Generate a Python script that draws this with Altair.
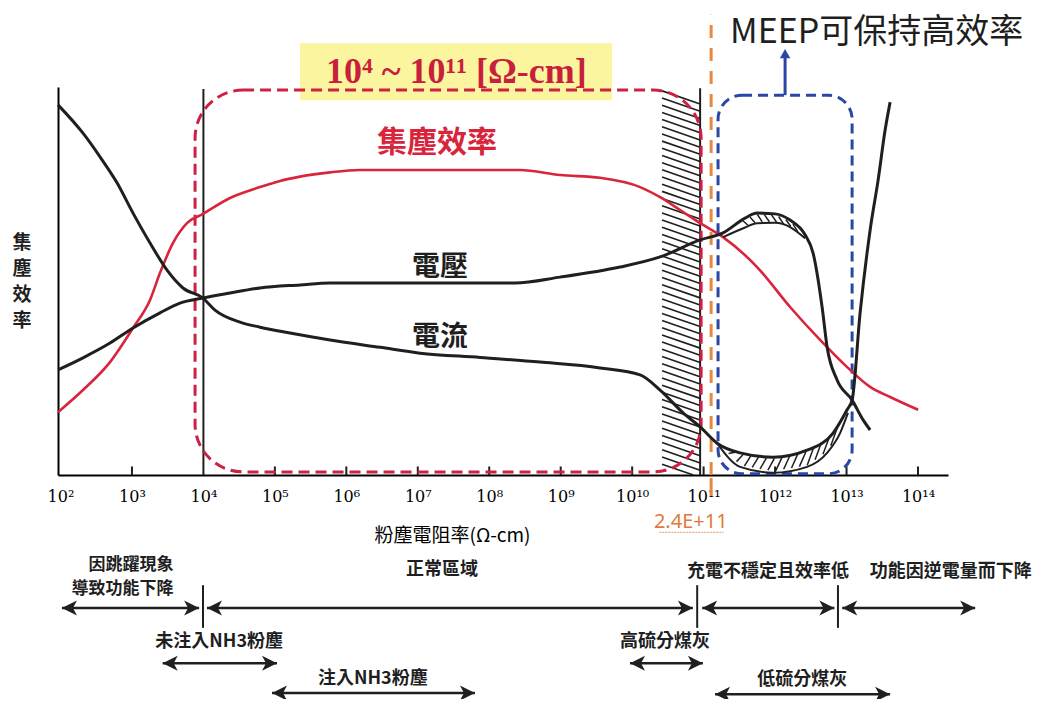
import altair as alt
import pandas as pd
import numpy as np

# ---------------- data (x = log10 resistivity, y = relative level 0-100) ----------------
EFF_X = [1.965, 2.315, 2.693, 3.015, 3.253, 3.393, 3.575, 3.770, 3.994, 4.372, 4.792, 5.072,
         5.352, 5.772, 6.192, 7.172, 8.431, 8.991, 9.551, 10.111, 10.391, 10.671, 10.951,
         11.272, 11.748, 12.210, 12.630, 13.008, 13.330, 13.610, 14.002]
EFF_Y = [16.2, 21.9, 29.1, 37.9, 45.1, 52.1, 59.8, 64.9, 67.3, 71.4, 74.2, 75.8,
         76.9, 78.0, 78.6, 78.6, 78.6, 77.3, 76.6, 74.2, 71.6, 68.3, 64.9,
         61.3, 53.6, 43.3, 34.8, 27.8, 22.7, 20.1, 16.8]

VOLT_X = [1.965, 2.315, 2.693, 3.015, 3.393, 3.672, 3.994, 4.372, 4.792, 5.352, 5.772, 8.361,
          8.991, 9.831, 10.391, 10.951, 11.272, 11.580, 11.748, 12.000, 12.210, 12.420,
          12.532, 12.658, 12.728, 12.868, 13.078, 13.232, 13.330]
VOLT_Y = [27.1, 30.2, 34.0, 37.9, 41.8, 44.3, 45.6, 46.9, 48.2, 49.0, 49.5, 49.5,
          51.0, 53.6, 56.2, 60.6, 62.4, 66.2, 67.5, 67.3, 65.7, 61.9,
          57.2, 43.3, 33.0, 24.5, 19.3, 14.2, 11.6]
VOLT_INNER_X = [11.272, 11.580, 11.748, 12.000, 12.210, 12.420]
VOLT_INNER_Y = [61.3, 63.8, 64.9, 65.0, 63.9, 61.0]

CURR_X = [1.965, 2.315, 2.553, 2.791, 3.015, 3.253, 3.491, 3.714, 3.994, 4.162, 4.512, 4.792,
          5.212, 5.772, 6.472, 7.032, 7.872, 8.711, 9.551, 10.111, 10.391, 10.713, 10.951,
          11.188, 11.510, 11.972, 12.448, 12.812, 13.008, 13.078, 13.190, 13.330, 13.442,
          13.540, 13.610]
CURR_Y = [95.4, 88.1, 82.0, 75.3, 67.5, 59.8, 52.8, 48.2, 45.6, 42.5, 39.4, 38.1,
          36.6, 34.8, 32.9, 31.4, 30.3, 29.1, 27.6, 25.8, 21.9, 16.0, 12.4,
          8.2, 5.7, 4.6, 6.4, 10.8, 16.8, 19.3, 41.8, 63.1, 76.0,
          88.9, 96.1]
CURR_INNER_X = [11.188, 11.510, 11.972, 12.448, 12.728, 12.910, 13.020]
CURR_INNER_Y = [8.2, 2.1, 0.6, 2.1, 5.7, 10.8, 16.0]

TICK_VALUES = list(range(2, 15))
SUP = dict(zip("0123456789", "⁰¹²³⁴⁵⁶⁷⁸⁹"))
TICK_LABELS = ["10" + "".join(SUP[c] for c in str(v)) for v in TICK_VALUES]

# annotation rows below the axis
ARROW_X1 = [2.02, 4.05, 10.98, 12.94, 3.43, 4.96, 9.97, 11.16]
ARROW_X2 = [3.94, 10.85, 12.83, 14.80, 5.03, 7.80, 10.99, 13.61]
ARROW_Y = [-34.3, -34.3, -34.3, -34.3, -48.5, -56.2, -48.5, -56.5]
SEP_X = [3.994, 10.91, 12.88]

NOTE_TEXT = ["正常區域", "充電不穩定且效率低", "功能因逆電量而下降", "未注入NH3粉塵",
             "注入NH3粉塵", "高硫分煤灰", "低硫分煤灰"]
NOTE_X = [7.34, 11.90, 14.46, 4.22, 6.37, 10.46, 12.38]
NOTE_Y = [-24.5, -25.0, -25.0, -43.0, -52.6, -43.0, -52.9]
LEFT_NOTE = ["因跳躍現象", "導致功能下降"]
LEFT_NOTE_Y = [-23.3, -29.4]

RED = "#d8253b"
BOX_RED = "#cc2142"
BLUE = "#2b46a6"
ORANGE = "#e8873f"
BLACK = "#1f1f1f"
CJK = "Noto Sans CJK TC"

xs = alt.Scale(domain=[1.965, 14.42], nice=False, zero=False)
ys = alt.Scale(domain=[0, 100], nice=False, zero=False)

label_expr = "[" + ",".join(f"'{l}'" for l in TICK_LABELS) + "][datum.value - 2]"
AX = alt.Axis(values=TICK_VALUES, labelExpr=label_expr, ticks=False, grid=False,
              domainColor="black", domainWidth=2, labelFont="DejaVu Serif",
              labelFontSize=16, labelPadding=13, labelColor="black",
              labelFlush=False, labelOverlap=False,
              title="粉塵電阻率(Ω-cm)", titleFont=CJK, titleFontSize=19,
              titleFontWeight="normal", titleColor="black", titleX=394,
              titleAlign="center", titlePadding=22)
AY = alt.Axis(labels=False, ticks=False, title=None, grid=False,
              domainColor="black", domainWidth=2)


def X(f="x"):
    return alt.X(f, type="quantitative", scale=xs, axis=AX)


def Y(f="y"):
    return alt.Y(f, type="quantitative", scale=ys, axis=AY)


def X2(f="x2"):
    return alt.X2(f)


def Y2(f="y2"):
    return alt.Y2(f)


# yellow highlight behind range label
yellow = alt.Chart(pd.DataFrame({"x": [5.352], "x2": [9.72], "y": [96.6], "y2": [111.3]})).mark_rect(
    color="#fbf59f").encode(x=X(), x2=X2(), y=Y(), y2=Y2())

# hatched band left of 10^11 (texture)
hy = np.arange(99.0, 1.0, -1.85)
hx1 = np.full_like(hy, 10.418)
hx2 = np.full_like(hy, 10.951)
hy2 = hy - 3.4
short = hy2 < 0
hx2[short] = hx1[short] + (10.951 - 10.418) * (hy[short] / 3.4)
hy2[short] = 0.0
hatch = alt.Chart(pd.DataFrame({"x": hx1, "x2": hx2, "y": hy, "y2": hy2})).mark_rule(
    color=BLACK, strokeWidth=1.6).encode(x=X(), x2=X2(), y=Y(), y2=Y2())

# hatch texture inside the two hysteresis lobes
lx = np.arange(11.35, 12.80, 0.11)
low_y = np.interp(lx, CURR_INNER_X, CURR_INNER_Y)
up_y = np.interp(lx + 0.09, CURR_X, CURR_Y)
ux = np.arange(11.62, 12.40, 0.10)
uin = np.interp(ux, VOLT_INNER_X, VOLT_INNER_Y)
uout = np.interp(ux - 0.07, VOLT_X, VOLT_Y)
lobe_hatch = alt.Chart(pd.DataFrame({
    "x": np.concatenate([lx, ux]), "x2": np.concatenate([lx + 0.09, ux - 0.07]),
    "y": np.concatenate([low_y + 0.4, uin + 0.3]), "y2": np.concatenate([up_y - 0.4, uout - 0.3]),
})).mark_rule(color=BLACK, strokeWidth=1.5).encode(x=X(), x2=X2(), y=Y(), y2=Y2())

# vertical solid lines (10^4 and hatched band edge)
vlines = alt.Chart(pd.DataFrame({"x": [4.0, 10.951], "y": [0, 0], "y2": [99.5, 99.7]})).mark_rule(
    color=BLACK, strokeWidth=2).encode(x=X(), y=Y(), y2=Y2())

# small inner ticks
tk = [v for v in TICK_VALUES if v not in (2, 4)]
ticks = alt.Chart(pd.DataFrame({"x": tk, "y": [0] * len(tk), "y2": [2.2] * len(tk)})).mark_rule(
    color=BLACK, strokeWidth=2).encode(x=X(), y=Y(), y2=Y2())

# dashed boxes
red_box = alt.Chart(pd.DataFrame({"x": [3.883], "x2": [10.965], "y": [0.8], "y2": [99.2]})).mark_rect(
    fill="white", fillOpacity=0, stroke=BOX_RED, strokeWidth=3, strokeDash=[11, 6],
    cornerRadius=48).encode(x=X(), x2=X2(), y=Y(), y2=Y2())
blue_box = alt.Chart(pd.DataFrame({"x": [11.202], "x2": [13.078], "y": [0.3], "y2": [97.9]})).mark_rect(
    fill="white", fillOpacity=0, stroke=BLUE, strokeWidth=3, strokeDash=[10, 6],
    cornerRadius=24).encode(x=X(), x2=X2(), y=Y(), y2=Y2())
blue_arrow = alt.Chart(pd.DataFrame({"x": [12.14], "y": [97.9], "y2": [107.5]})).mark_rule(
    color=BLUE, strokeWidth=3).encode(x=X(), y=Y(), y2=Y2())
blue_head = alt.Chart(pd.DataFrame({"x": [12.14], "y": [108.6]})).mark_point(
    shape="triangle-up", filled=True, color=BLUE, size=110, opacity=1).encode(x=X(), y=Y())

# orange marker line
orange = alt.Chart(pd.DataFrame({"x": [11.105], "y": [0], "y2": [118.6]})).mark_rule(
    color=ORANGE, strokeWidth=3, strokeDash=[13, 10]).encode(x=X(), y=Y(), y2=Y2())
orange_tick = alt.Chart(pd.DataFrame({"x": [11.105], "y": [-0.8], "y2": [-5.4]})).mark_rule(
    color=ORANGE, strokeWidth=3).encode(x=X(), y=Y(), y2=Y2())
orange_txt = alt.Chart(pd.DataFrame({"x": [10.82], "y": [-12.1], "t": ["2.4E+11"]})).mark_text(
    font="Noto Sans", fontSize=20, color="#e07a3c", baseline="middle").encode(x=X(), y=Y(), text="t:N")
orange_ul = alt.Chart(pd.DataFrame({"x": [10.38], "x2": [11.28], "y": [-14.8]})).mark_rule(
    color="#eeaa80", strokeWidth=1.2, strokeDash=[2, 1]).encode(x=X(), x2=X2(), y=Y())


def curve(xv, yv, color, width):
    return alt.Chart(pd.DataFrame({"x": xv, "y": yv})).mark_line(
        color=color, strokeWidth=width, interpolate="monotone").encode(x=X(), y=Y())


eff_line = curve(EFF_X, EFF_Y, RED, 2.6)
volt_line = curve(VOLT_X, VOLT_Y, BLACK, 3)
volt_inner = curve(VOLT_INNER_X, VOLT_INNER_Y, BLACK, 2)
curr_line = curve(CURR_X, CURR_Y, BLACK, 3)
curr_inner = curve(CURR_INNER_X, CURR_INNER_Y, BLACK, 2)


def txt(df, **kw):
    return alt.Chart(df).mark_text(**kw).encode(x=X(), y=Y(), text="t:N")


range_label = txt(pd.DataFrame({"x": [7.54], "y": [103.9], "t": ["10⁴ ~ 10¹¹ [Ω-cm]"]}),
                  font="Liberation Serif", fontSize=36, fontWeight="bold", color="#c81f3d",
                  baseline="middle")
meep = txt(pd.DataFrame({"x": [11.37], "y": [113.9], "t": ["MEEP可保持高效率"]}),
           font=CJK, fontSize=34, color=BLACK, align="left", baseline="middle")
eff_lab = txt(pd.DataFrame({"x": [7.27], "y": [85.6], "t": ["集塵效率"]}),
              font=CJK, fontSize=30, fontWeight="bold", color=RED, baseline="middle")
vi_lab = txt(pd.DataFrame({"x": [7.31, 7.31], "y": [53.4, 35.3], "t": ["電壓", "電流"]}),
             font=CJK, fontSize=28, fontWeight="bold", color=BLACK, baseline="middle")
ylab = txt(pd.DataFrame({"x": [1.461], "y": [62.1], "t": ["集\n塵\n效\n率"]}),
           font=CJK, fontSize=19, fontWeight="bold", color=BLACK, baseline="top",
           lineBreak="\n", lineHeight=26)

notes = txt(pd.DataFrame({"x": NOTE_X, "y": NOTE_Y, "t": NOTE_TEXT}),
            font=CJK, fontSize=18, fontWeight="bold", color=BLACK, baseline="middle")
left_notes = txt(pd.DataFrame({"x": [3.58, 3.58], "y": LEFT_NOTE_Y, "t": LEFT_NOTE}),
                 font=CJK, fontSize=17, fontWeight="bold", color=BLACK, baseline="middle",
                 align="right")

arr_df = pd.DataFrame({"x": ARROW_X1, "x2": ARROW_X2, "y": ARROW_Y})
arr_lines = alt.Chart(arr_df).mark_rule(color=BLACK, strokeWidth=2.5).encode(
    x=X(), x2=X2(), y=Y())
RIGHT_HEAD = "M 0 0 L -3 -1.5 L -2.2 0 L -3 1.5 Z"
LEFT_HEAD = "M 0 0 L 3 -1.5 L 2.2 0 L 3 1.5 Z"
arr_r = alt.Chart(arr_df).mark_point(shape=RIGHT_HEAD, filled=True, color=BLACK, size=100,
                                     opacity=1).encode(x=X("x2"), y=Y())
arr_l = alt.Chart(arr_df).mark_point(shape=LEFT_HEAD, filled=True, color=BLACK, size=100,
                                     opacity=1).encode(x=X("x"), y=Y())
seps = alt.Chart(pd.DataFrame({"x": SEP_X, "y": [-28.4] * 3, "y2": [-39.4] * 3})).mark_rule(
    color=BLACK, strokeWidth=2).encode(x=X(), y=Y(), y2=Y2())

chart = alt.layer(
    yellow, hatch, lobe_hatch, vlines, ticks, red_box, blue_box, blue_arrow, blue_head,
    orange, orange_tick, orange_ul, orange_txt,
    eff_line, volt_line, volt_inner, curr_line, curr_inner,
    range_label, meep, eff_lab, vi_lab, ylab,
    arr_lines, arr_r, arr_l, seps, notes, left_notes,
).properties(
    width=890, height=388,
    padding={"left": 50, "top": 79, "right": 104, "bottom": 224},
    autosize=alt.AutoSizeParams(type="none"),
).configure_view(stroke=None)

chart.save("out.html", embed_options={"renderer": "svg", "actions": False})
